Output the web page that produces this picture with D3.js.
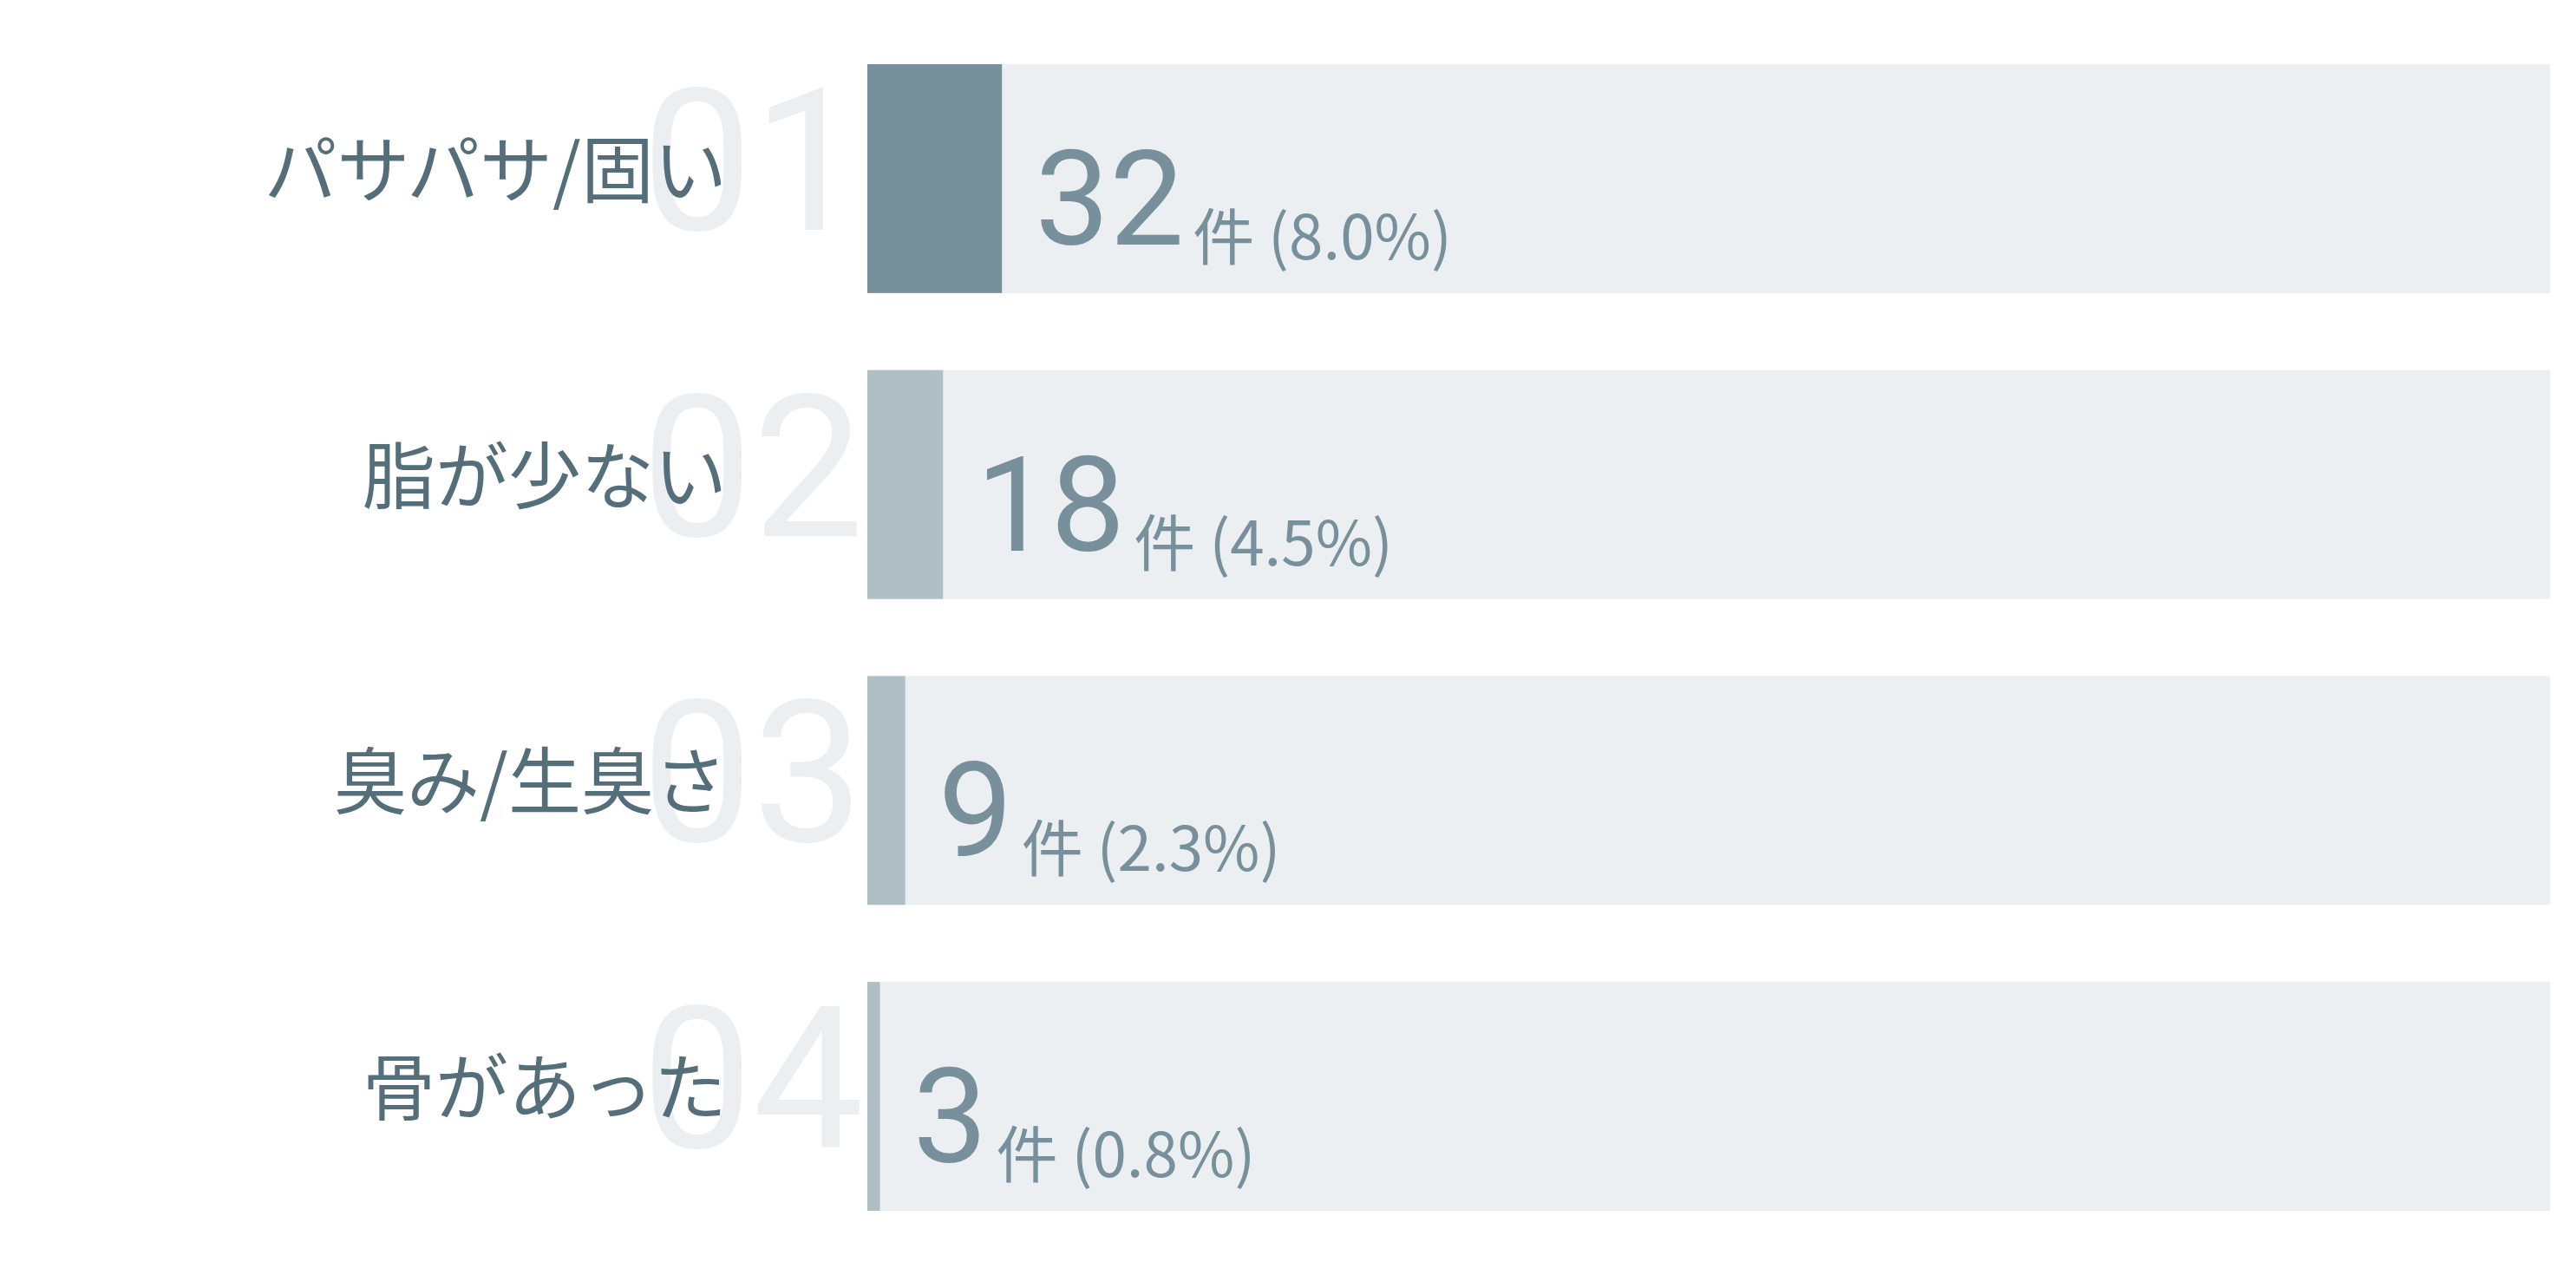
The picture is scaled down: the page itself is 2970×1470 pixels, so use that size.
<!DOCTYPE html>
<html>
<head>
<meta charset="utf-8">
<script src="https://cdn.jsdelivr.net/npm/d3@7"></script>
<style>
  body { margin: 0; background: #fff; }
  svg { display: block; }
</style>
</head>
<body>
<div id="chart"></div>
<script>
var svgWidth = 2970;
var svgHeight = 1470;

// data
var categories = ["パサパサ/固い", "脂が少ない", "臭み/生臭さ", "骨があった"];
var ranks = ["01", "02", "03", "04"];
var counts = [32, 18, 9, 3];
var pctLabels = ["8.0%", "4.5%", "2.3%", "0.8%"];
var totalCount = 400;

var rows = categories.map(function(c, i) {
  return { label: c, rank: ranks[i], count: counts[i], pct: pctLabels[i], idx: i };
});

var svg = d3.select("#chart")
  .append("svg")
  .attr("width", svgWidth)
  .attr("height", svgHeight);

svg.append("rect")
  .attr("width", svgWidth)
  .attr("height", svgHeight)
  .attr("fill", "#ffffff");

var x = d3.scaleLinear()
  .domain([0, totalCount])
  .range([1000, 2940]);

var y = d3.scaleBand()
  .domain(categories)
  .range([74, 1396])
  .paddingInner(0.252)
  .paddingOuter(0);

var row = svg.selectAll("g.row")
  .data(rows)
  .enter()
  .append("g")
  .attr("class", "row")
  .attr("transform", d => `translate(0, ${y(d.label)})`);

// big faint rank numbers, behind the labels
row.append("text")
  .attr("x", x(0) - 4)
  .attr("y", 191)
  .attr("text-anchor", "end")
  .attr("font-family", "Roboto, 'Noto Sans', sans-serif")
  .attr("font-weight", 400)
  .attr("font-size", 228)
  .attr("fill", "#eceff1")
  .style("font-variant-numeric", "tabular-nums")
  .text(d => d.rank);

// category labels
row.append("text")
  .attr("x", 838)
  .attr("y", 153)
  .attr("text-anchor", "end")
  .attr("font-family", "'Noto Sans CJK JP', sans-serif")
  .attr("font-size", 84)
  .attr("fill", "#546e7a")
  .text(d => d.label);

// track
row.append("rect")
  .attr("x", x(0))
  .attr("y", 0)
  .attr("width", x(totalCount) - x(0))
  .attr("height", y.bandwidth())
  .attr("fill", "#eceff1");

// value bar
row.append("rect")
  .attr("x", x(0))
  .attr("y", 0)
  .attr("width", d => x(d.count) - x(0))
  .attr("height", y.bandwidth())
  .attr("fill", d => d.idx === 0 ? "#78909c" : "#b0bec5");

// value text
var val = row.append("text")
  .attr("x", d => x(d.count) + 38)
  .attr("y", 208)
  .attr("font-family", "'Noto Sans CJK JP', sans-serif")
  .attr("fill", "#78909c");

val.append("tspan")
  .attr("font-family", "Roboto, 'Noto Sans', sans-serif")
  .attr("font-size", 153)
  .text(d => d.count);

val.append("tspan")
  .attr("dx", 10)
  .attr("dy", 17)
  .attr("font-size", 71)
  .text(d => "件 (" + d.pct + ")");
</script>
</body>
</html>
